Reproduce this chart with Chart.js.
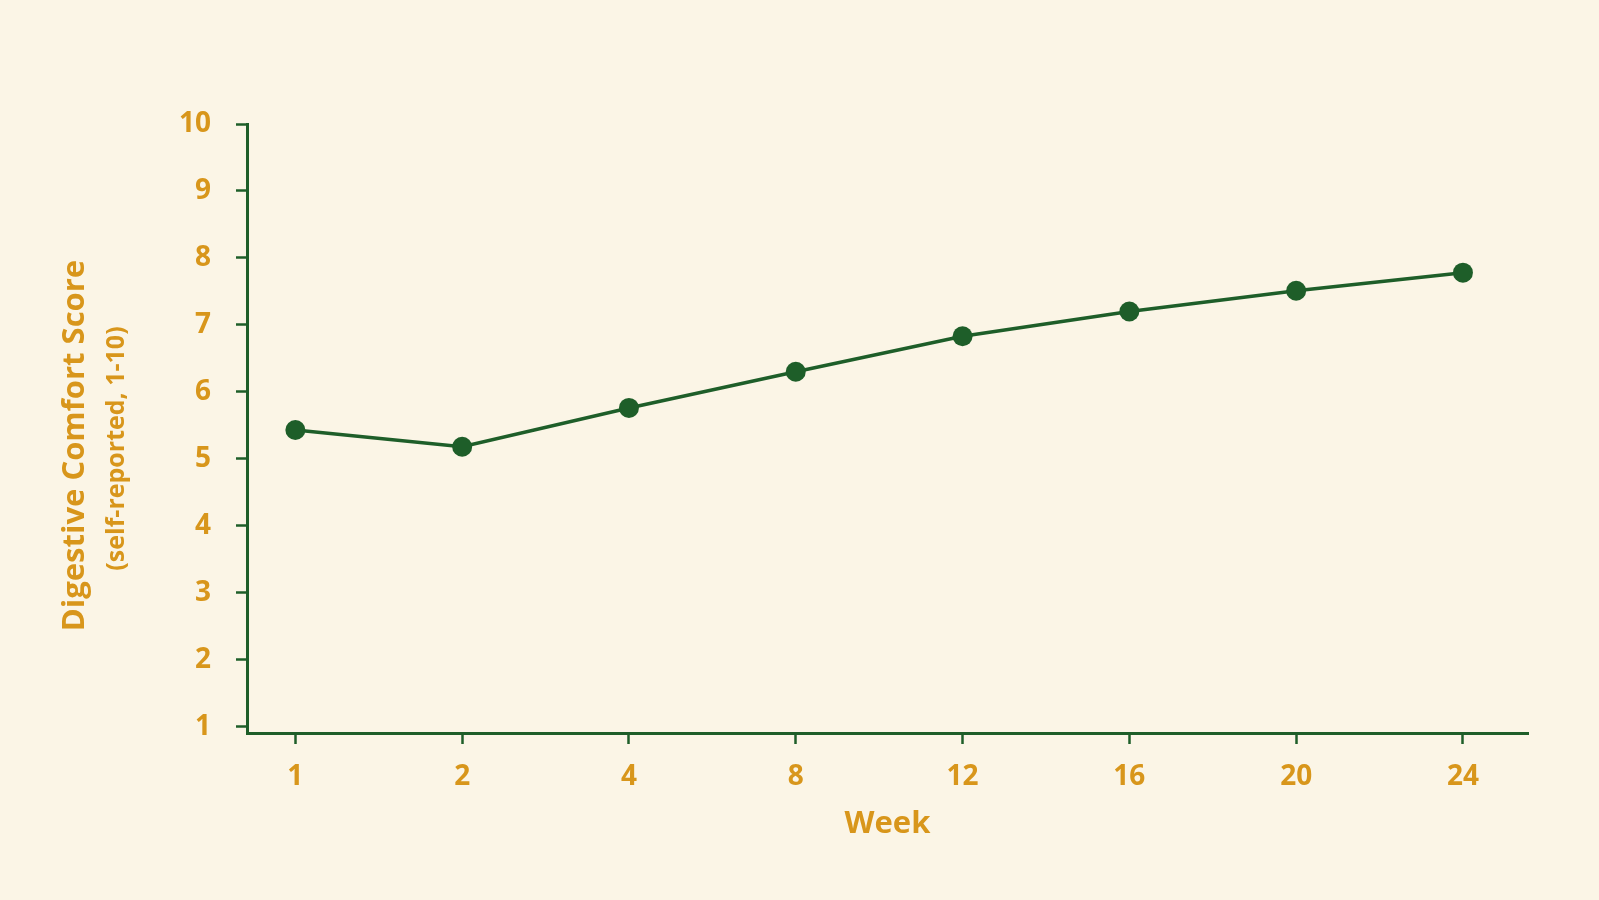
<!DOCTYPE html>
<html>
<head>
<meta charset="utf-8">
<script src="https://cdn.jsdelivr.net/npm/chart.js@4"></script>
<style>
    html, body { margin: 0; padding: 0; background: #fbf5e6; }
    #wrap { width: 1599px; height: 900px; position: relative; }
</style>
</head>
<body>
<div id="wrap"><canvas id="comfortChart"></canvas></div>
<script>
const weeks = [1, 2, 4, 8, 12, 16, 20, 24];
const comfortScores = [5.43, 5.18, 5.76, 6.30, 6.83, 7.20, 7.51, 7.78];
const scoreTicks = [1, 2, 3, 4, 5, 6, 7, 8, 9, 10];
const yTitle = 'Digestive Comfort Score';
const ySubTitle = '(self-reported, 1-10)';
const xTitle = 'Week';

const green = '#1e5e29';
const gold = '#d8961b';
const fontFamily = '"Open Sans", sans-serif';

// draws the two line y title, the sub line uses a smaller font
const yTitlePlugin = {
    id: 'yTitlePlugin',
    afterDraw: function (chart) {
        let ctx = chart.ctx;
        let area = chart.chartArea;
        let midY = (area.top + area.bottom) / 2 + 17;
        ctx.save();
        ctx.fillStyle = gold;
        ctx.textAlign = 'center';
        ctx.textBaseline = 'middle';

        ctx.save();
        ctx.translate(75, midY);
        ctx.rotate(-Math.PI / 2);
        ctx.font = 'bold 31px ' + fontFamily;
        ctx.fillText(yTitle, 0, 0);
        ctx.restore();

        ctx.save();
        ctx.translate(117, midY + 3);
        ctx.rotate(-Math.PI / 2);
        ctx.font = 'bold 25px ' + fontFamily;
        ctx.fillText(ySubTitle, 0, 0);
        ctx.restore();

        ctx.restore();
    }
};

const dataForGraph = {
    datasets: [{
        label: 'Comfort score',
        data: comfortScores.map(function (s, i) { return {x: i, y: s}; }),
        borderColor: green,
        backgroundColor: green,
        borderWidth: 3.5,
        pointRadius: 10,
        pointHoverRadius: 10,
        pointBorderWidth: 0,
        pointBackgroundColor: green,
        tension: 0,
        fill: false,
    }]
};

const config = {
    type: 'line',
    data: dataForGraph,
    plugins: [yTitlePlugin],
    options: {
        responsive: true,
        maintainAspectRatio: false,
        animation: false,
        layout: {
            padding: {left: 0, top: 124, right: 71, bottom: 0}
        },
        plugins: {
            legend: {display: false},
            tooltip: {enabled: false},
        },
        scales: {
            x: {
                type: 'linear',
                min: -0.29,
                max: 7.39,
                afterBuildTicks: function (scale) {
                    scale.ticks = weeks.map(function (w, i) { return {value: i}; });
                },
                afterFit: function (scale) {
                    scale.height = 167;
                },
                ticks: {
                    autoSkip: false,
                    maxRotation: 0,
                    color: gold,
                    padding: 16,
                    font: {family: fontFamily, size: 28, weight: 'bold'},
                    callback: function (value) {
                        return weeks[value];
                    }
                },
                grid: {
                    drawOnChartArea: false,
                    drawTicks: true,
                    tickLength: 11,
                    tickColor: green,
                    tickWidth: 2.5,
                },
                border: {display: true, color: green, width: 3},
                title: {
                    display: true,
                    text: xTitle,
                    color: gold,
                    font: {family: fontFamily, size: 31, weight: 'bold'},
                    padding: {top: 0, bottom: 57},
                },
            },
            y: {
                type: 'linear',
                min: 0.906,
                max: 10,
                afterBuildTicks: function (scale) {
                    scale.ticks = scoreTicks.map(function (v) { return {value: v}; });
                },
                afterFit: function (scale) {
                    scale.width = 247;
                },
                ticks: {
                    color: gold,
                    padding: 25,
                    font: {family: fontFamily, size: 28, weight: 'bold'},
                },
                grid: {
                    drawOnChartArea: false,
                    drawTicks: true,
                    tickLength: 11,
                    tickColor: green,
                    tickWidth: 2.5,
                },
                border: {display: true, color: green, width: 3},
            },
        }
    },
};

let ctx = document.getElementById('comfortChart');
let comfortChart = new Chart(ctx, config);
</script>
</body>
</html>
